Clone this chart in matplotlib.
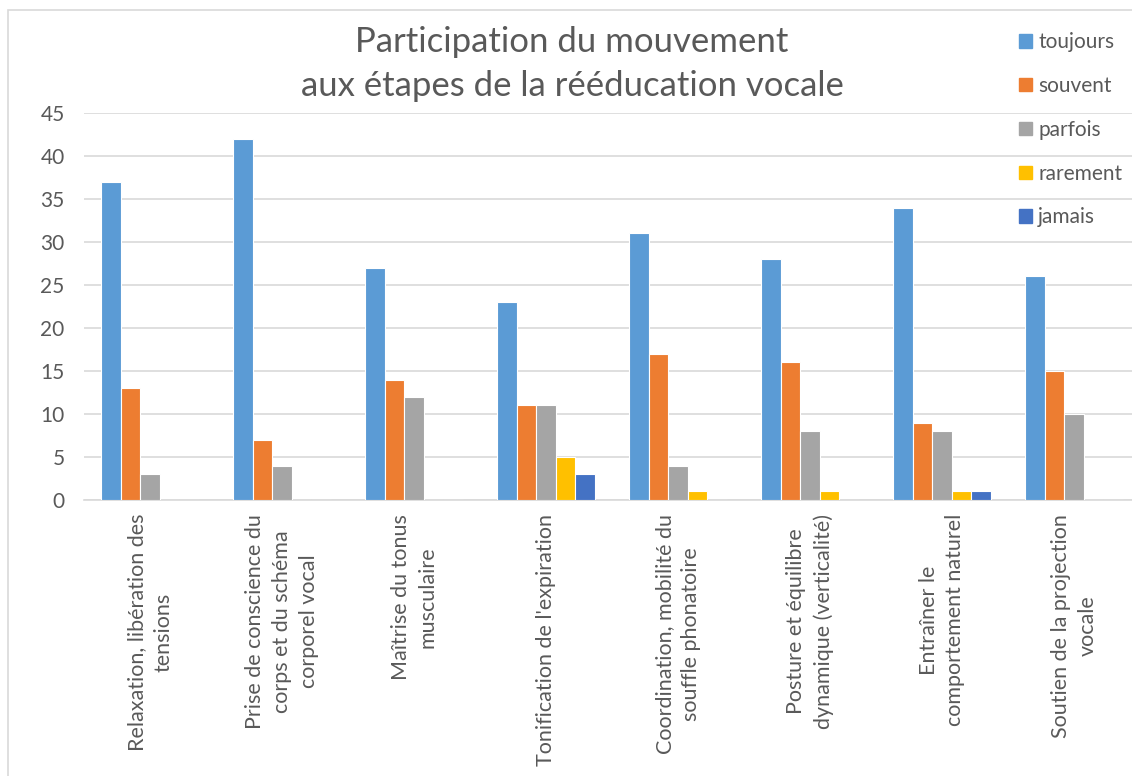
import matplotlib
matplotlib.use("Agg")
import matplotlib.pyplot as plt
import numpy as np
from matplotlib.patches import Rectangle

plt.rcParams['font.family'] = ['Lato', 'DejaVu Sans']

categories = [
    "Relaxation, libération des\ntensions",
    "Prise de conscience du\ncorps et du schéma\ncorporel vocal",
    "Maîtrise du tonus\nmusculaire",
    "Tonification de l'expiration",
    "Coordination, mobilité du\nsouffle phonatoire",
    "Posture et équilibre\ndynamique (verticalité)",
    "Entraîner le\ncomportement naturel",
    "Soutien de la projection\nvocale",
]
series_names = ["toujours", "souvent", "parfois", "rarement", "jamais"]
toujours = [37, 42, 27, 23, 31, 28, 34, 26]
souvent = [13, 7, 14, 11, 17, 16, 9, 15]
parfois = [3, 4, 12, 11, 4, 8, 8, 10]
rarement = [0, 0, 0, 5, 1, 1, 1, 0]
jamais = [0, 0, 0, 3, 0, 0, 1, 0]
yticks = [0, 5, 10, 15, 20, 25, 30, 35, 40, 45]
title = "Participation du mouvement\naux étapes de la rééducation vocale"

colors = ["#5B9BD5", "#ED7D31", "#A5A5A5", "#FFC000", "#4472C4"]
W, H = 1132, 776
fig = plt.figure(figsize=(W / 100, H / 100), dpi=100)
fig.patch.set_facecolor("white")

# chart border
fig.patches.append(Rectangle((8 / W, -0.1), 1.2, (H - 10) / H + 0.1, transform=fig.transFigure,
                             fill=False, edgecolor="#D9D9D9", linewidth=1.2))

left, right = 84, W
bottom, top = 500, 113
ax = fig.add_axes([left / W, (H - bottom) / H, (right - left) / W, (bottom - top) / H])
cat_w = 132.0
ax.set_xlim(-0.5, -0.5 + (right - left) / cat_w)
ax.set_ylim(0, 45)

x = np.arange(len(categories))
data = [toujours, souvent, parfois, rarement, jamais]
bw = 0.148
for i, (name, vals, c) in enumerate(zip(series_names, data, colors)):
    offs = (i - 2) * bw
    ax.bar(x + offs, vals, width=bw, color=c, edgecolor="white", linewidth=0.8, label=name, zorder=3)

ax.set_yticks(yticks)
ax.yaxis.grid(True, color="#D9D9D9", linewidth=1.2, zorder=0)
ax.set_axisbelow(True)
for s in ["top", "right", "left"]:
    ax.spines[s].set_visible(False)
ax.spines["bottom"].set_color("#D9D9D9")
ax.spines["bottom"].set_linewidth(1.2)
ax.tick_params(axis="both", length=0, labelsize=15, colors="#595959")
ax.tick_params(axis="y", pad=14)
ax.set_xticks(x)
ax.set_xticklabels(categories, rotation=90, ha="center", va="top", multialignment="center",
                   linespacing=1.42, fontsize=15.5)
ax.tick_params(axis="x", pad=10)

fig.text(572 / W, 1 - 26 / H, title, ha="center", va="top", fontsize=25, color="#595959",
         linespacing=1.45)

handles = [Rectangle((0, 0), 1, 1, color=c) for c in colors]
leg = fig.legend(handles, series_names, loc="upper left", bbox_to_anchor=(1011 / W, 1 - 24 / H),
                 frameon=False, fontsize=15, labelspacing=1.14, handlelength=0.6, handleheight=0.6,
                 handletextpad=0.3, borderaxespad=0)
for t in leg.get_texts():
    t.set_color("#595959")

fig.savefig("out.png", dpi=100, facecolor="white")
